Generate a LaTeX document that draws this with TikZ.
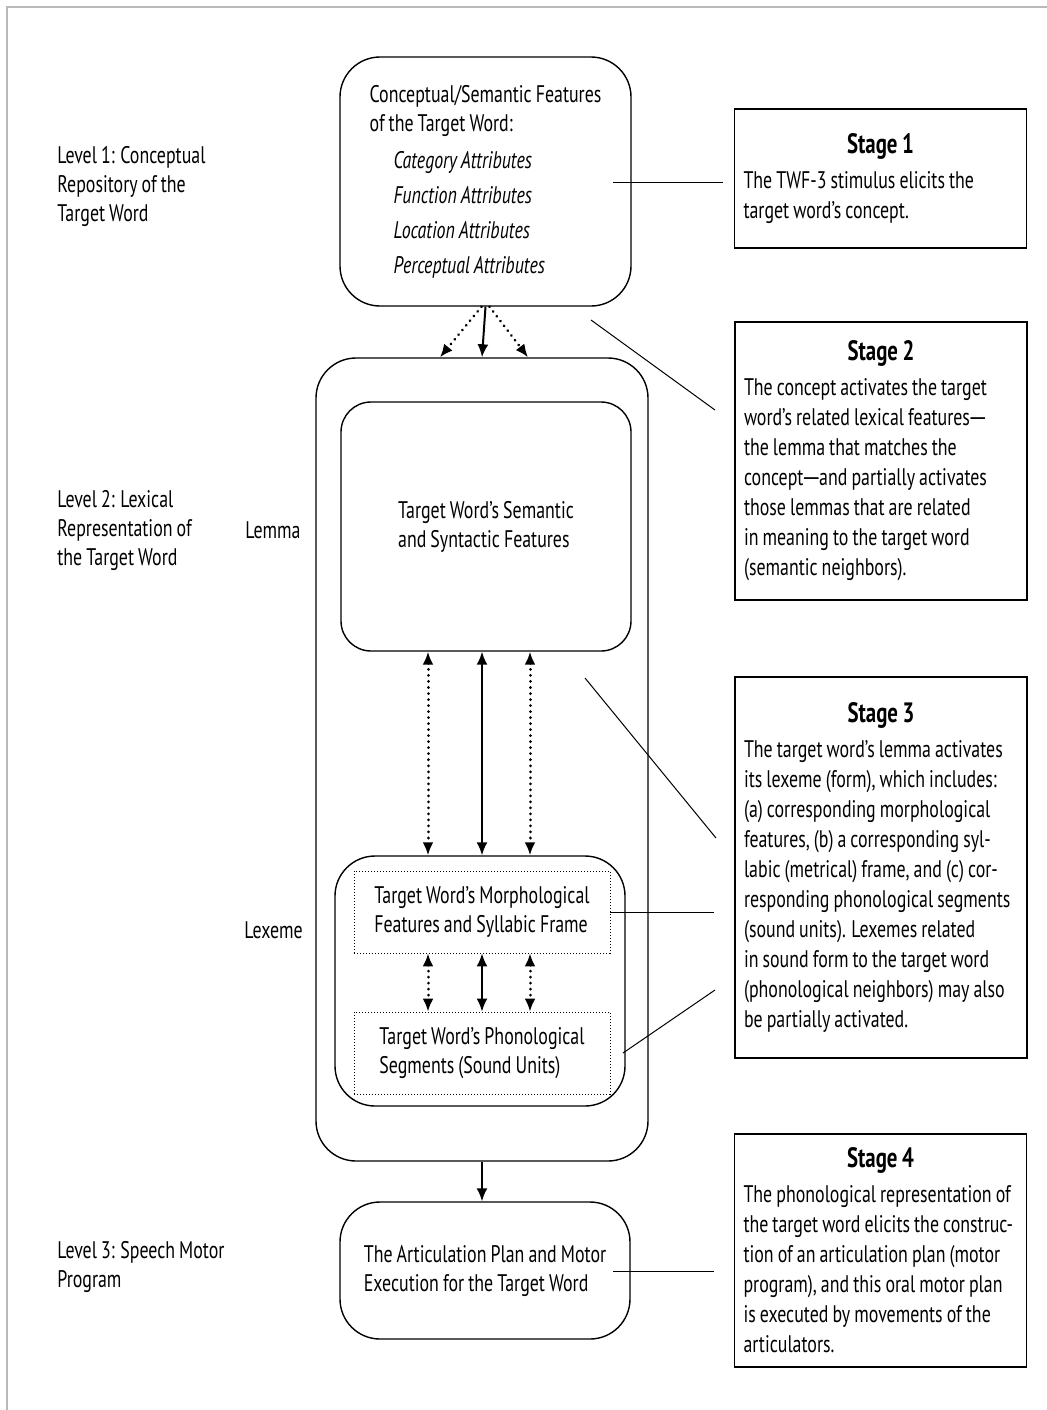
\documentclass[tikz,border=0pt]{standalone}
\usepackage{fontspec}
\setmainfont{PT Sans}[FakeStretch=0.745, WordSpace=0.85]
\usetikzlibrary{arrows.meta}

\tikzset{
  box/.style={draw, line width=0.7pt, rounded corners=20pt, align=left},
  dotbox/.style={draw, line width=0.4pt, dash pattern=on 0.5pt off 1pt, align=left},
  stagebox/.style={draw, line width=0.7pt, text width=137pt, inner xsep=4.5pt, align=left,
    font=\fontsize{12}{15}\selectfont},
  lbl/.style={anchor=west, align=left, inner xsep=0pt},
  link/.style={line width=0.5pt},
  flow/.style={>={Latex[length=6.5pt,width=5.5pt]}, line width=1pt},
  dflow/.style={flow, line cap=round, dash pattern=on 0.01pt off 3pt, line width=1.5pt}
}
\newcommand{\stagetitle}[1]{\spaceskip=0pt \xspaceskip=0pt
  {\centering\bfseries\fontsize{14}{15}\selectfont #1\par}\vspace{2.5pt}}
\newcommand{\longdash}{\kern-1.2pt\scalebox{1.4}[1]{\textemdash}\kern-1.2pt}

\begin{document}
\fontsize{12}{14.5}\selectfont
\begin{tikzpicture}[x=0.5pt, y=-0.5pt]
\useasboundingbox (0,0) rectangle (1047,1410);
\draw [gray!55, line width=1pt] (7,1410) -- (7,7) -- (1047,7);

% level labels
\node [lbl] (lvone) at (57,186) {Level 1: Conceptual\\Repository of the\\Target Word};
\node [lbl] (lvtwo) at (57,530) {Level 2: Lexical\\Representation of\\the Target Word};
\node [lbl] (lvthree) at (57,1267) {Level 3: Speech Motor\\Program};
\node [lbl] (lemmalbl) at (245,530) {Lemma};
\node [lbl] (lexemelbl) at (244,930) {Lexeme};

% boxes
\node [box, minimum width=145.5pt, minimum height=124.5pt] (concept) at (485.5,181.5)
  {Conceptual/Semantic Features\\of the Target Word:\\[4pt]
   \hspace*{12pt}\textit{Category Attributes}\\[3pt]
   \hspace*{12pt}\textit{Function Attributes}\\[3pt]
   \hspace*{12pt}\textit{Location Attributes}\\[3pt]
   \hspace*{12pt}\textit{Perceptual Attributes}};
\node [box, minimum width=166pt, minimum height=401.5pt] (lexical) at (482,759.5) {};
\node [box, rounded corners=15pt, minimum width=145pt, minimum height=124.5pt] (lemma) at (486,526.5)
  {Target Word's Semantic\\and Syntactic Features};
\node [box, minimum width=145pt, minimum height=125pt] (lexeme) at (480,981) {};
\node [dotbox, minimum width=128pt, minimum height=41pt] (morph) at (482,912)
  {Target Word's Morphological\\Features and Syllabic Frame};
\node [dotbox, minimum width=128pt, minimum height=41pt] (phono) at (482,1053)
  {Target Word's Phonological\\Segments (Sound Units)};
\node [box, minimum width=145pt, minimum height=68.5pt] (artic) at (485,1270.5)
  {The Articulation Plan and Motor\\Execution for the Target Word};

% stages
\node [stagebox, minimum height=69.5pt] (sone) at (880.5,178.5)
  {\stagetitle{Stage 1}
   The TWF-3 stimulus elicits the\\target word's concept.};
\node [stagebox, minimum height=139pt] (stwo) at (881,461)
  {\stagetitle{Stage 2}
   The concept activates the target\\word's related lexical features\longdash\\the lemma that matches the\\concept\longdash and partially activates\\those lemmas that are related\\in meaning to the target word\\(semantic neighbors).};
\node [stagebox, minimum height=190.5pt] (sthree) at (881,867.5)
  {\stagetitle{Stage 3}
   The target word's lemma activates\\its lexeme (form), which includes:\\(a) corresponding morphological\\features, (b) a corresponding syl-\\labic (metrical) frame, and (c) cor-\\responding phonological segments\\(sound units). Lexemes related\\in sound form to the target word\\(phonological neighbors) may also\\be partially activated.};
\node [stagebox, minimum height=116.5pt] (sfour) at (880.5,1250.5)
  {\stagetitle{Stage 4}
   The phonological representation of\\the target word elicits the construc-\\tion of an articulation plan (motor\\program), and this oral motor plan\\is executed by movements of the\\articulators.};

% arrows
\draw [flow, ->] (concept.south) -- (lexical.north);
\draw [dflow, ->] ([xshift=-2pt]concept.south) -- ([xshift=-21pt]lexical.north);
\draw [dflow, ->] ([xshift=2pt]concept.south) -- ([xshift=23pt]lexical.north);

\draw [flow, <->] ([xshift=-2pt]lemma.south) -- ([xshift=-2pt]lemma.south |- lexeme.north);
\draw [dflow, <->] ([xshift=-29pt]lemma.south) -- ([xshift=-29pt]lemma.south |- lexeme.north);
\draw [dflow, <->] ([xshift=22pt]lemma.south) -- ([xshift=22pt]lemma.south |- lexeme.north);

\draw [flow, <->] (morph.south) -- (phono.north);
\draw [dflow, <->] ([xshift=-27pt]morph.south) -- ([xshift=-27pt]phono.north);
\draw [dflow, <->] ([xshift=24pt]morph.south) -- ([xshift=24pt]phono.north);

\draw [flow, ->] (lexical.south) -- (lexical.south |- artic.north);

% connectors to stages
\coordinate (cone) at (613,182);
\coordinate (ctwo) at (591,320);
\coordinate (cthree) at (585,678);
\coordinate (cphono) at (623,1053);
\coordinate (cfour) at (613,1271);
\draw [link] (cone) -- ([xshift=-5.5pt]sone.west |- cone);
\draw [link] (ctwo) -- (715,410);
\draw [link] (cthree) -- (716,838);
\draw [link] (morph.east) -- ([xshift=-10pt]sthree.west |- morph.east);
\draw [link] (cphono) -- (715,990);
\draw [link] (cfour) -- ([xshift=-10pt]sfour.west |- cfour);

\end{tikzpicture}
\end{document}
